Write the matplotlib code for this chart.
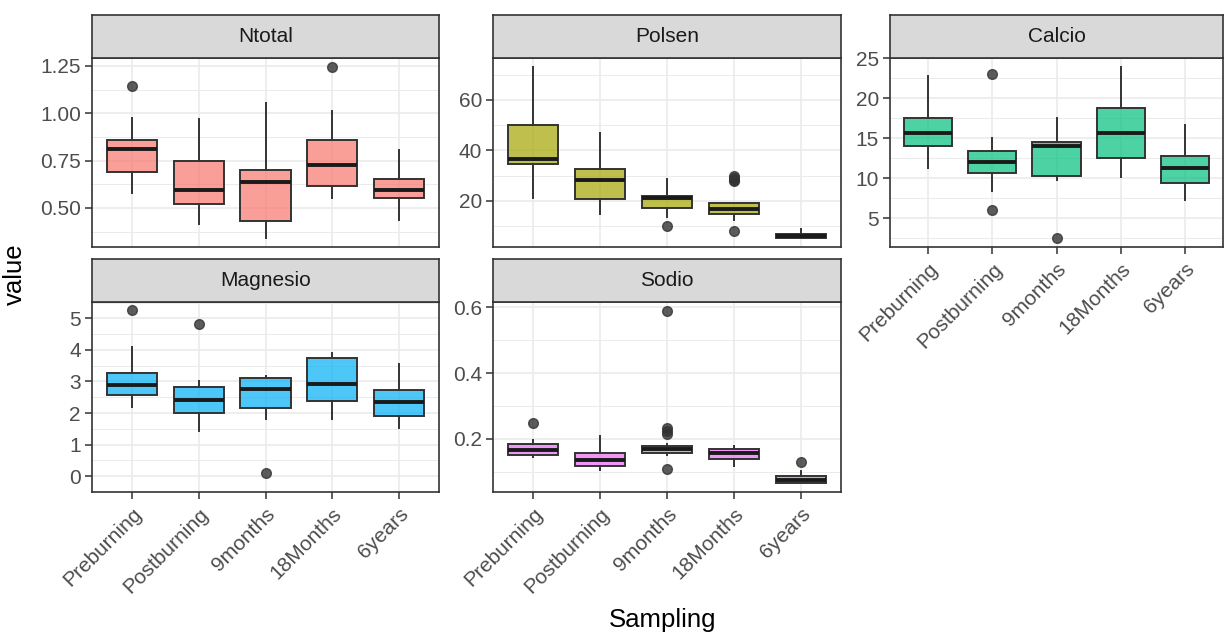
import numpy as np
import matplotlib.pyplot as plt

plt.rcParams['font.family'] = ['Liberation Sans', 'DejaVu Sans']

groups = ['Preburning', 'Postburning', '9months', '18Months', '6years']

# box statistics: whisker low, q1, median, q3, whisker high, outliers
ntotal_lo = [0.58, 0.414, 0.339, 0.554, 0.437]
ntotal_q1 = [0.691, 0.521, 0.429, 0.616, 0.55]
ntotal_med = [0.809, 0.593, 0.639, 0.725, 0.593]
ntotal_q3 = [0.861, 0.746, 0.70, 0.861, 0.652]
ntotal_hi = [0.975, 0.968, 1.054, 1.014, 0.807]
ntotal_out = [[1.143], [], [], [1.246], []]

polsen_lo = [21.0, 14.9, 13.5, 12.2, 5.1]
polsen_q1 = [34.6, 20.7, 17.1, 14.9, 5.1]
polsen_med = [36.5, 28.1, 21.1, 16.8, 6.0]
polsen_q3 = [50.0, 32.6, 22.1, 19.0, 6.9]
polsen_hi = [73.2, 46.8, 28.6, 19.0, 9.0]
polsen_out = [[], [], [10.1], [27.7, 28.4, 29.2, 29.9, 8.2], []]

calcio_lo = [11.25, 8.4, 9.8, 10.2, 7.3]
calcio_q1 = [14.04, 10.7, 10.3, 12.6, 9.4]
calcio_med = [15.67, 12.1, 14.0, 15.7, 11.25]
calcio_q3 = [17.5, 13.46, 14.5, 18.8, 12.8]
calcio_hi = [22.8, 15.1, 17.6, 23.96, 16.7]
calcio_out = [[], [23.0, 6.0], [2.5], [], []]

magnesio_lo = [2.19, 1.44, 1.82, 1.82, 1.54]
magnesio_q1 = [2.56, 1.99, 2.16, 2.37, 1.9]
magnesio_med = [2.88, 2.41, 2.76, 2.93, 2.35]
magnesio_q3 = [3.26, 2.83, 3.1, 3.73, 2.73]
magnesio_hi = [4.08, 3.03, 3.18, 3.9, 3.56]
magnesio_out = [[5.26], [4.83], [0.11], [], []]

sodio_lo = [0.146, 0.106, 0.151, 0.118, 0.065]
sodio_q1 = [0.151, 0.118, 0.156, 0.139, 0.065]
sodio_med = [0.167, 0.135, 0.169, 0.156, 0.076]
sodio_q3 = [0.185, 0.158, 0.18, 0.169, 0.088]
sodio_hi = [0.197, 0.21, 0.186, 0.18, 0.104]
sodio_out = [[0.248], [], [0.59, 0.233, 0.225, 0.214, 0.108], [], [0.131]]

panels = [
    ('Ntotal', '#F8766D', (ntotal_lo, ntotal_q1, ntotal_med, ntotal_q3, ntotal_hi, ntotal_out),
     [0.5, 0.75, 1.0, 1.25], ['0.50', '0.75', '1.00', '1.25'], 0.125),
    ('Polsen', '#A3A500', (polsen_lo, polsen_q1, polsen_med, polsen_q3, polsen_hi, polsen_out),
     [20, 40, 60], ['20', '40', '60'], 10),
    ('Calcio', '#00BF7D', (calcio_lo, calcio_q1, calcio_med, calcio_q3, calcio_hi, calcio_out),
     [5, 10, 15, 20, 25], ['5', '10', '15', '20', '25'], 2.5),
    ('Magnesio', '#00B0F6', (magnesio_lo, magnesio_q1, magnesio_med, magnesio_q3, magnesio_hi, magnesio_out),
     [0, 1, 2, 3, 4, 5], ['0', '1', '2', '3', '4', '5'], 0.5),
    ('Sodio', '#E76BF3', (sodio_lo, sodio_q1, sodio_med, sodio_q3, sodio_hi, sodio_out),
     [0.2, 0.4, 0.6], ['0.2', '0.4', '0.6'], 0.1),
]

W, H = 1225, 633
# panel rectangles in pixels: left, top, right, bottom
rects = [(92, 58, 439, 247), (493, 58, 841, 247), (890, 58, 1223, 247),
         (92, 302, 439, 492), (493, 302, 841, 492)]
strip_h = 43
show_x = [False, False, True, True, True]

fig = plt.figure(figsize=(W / 100, H / 100), dpi=100)
dark = '#333333'

for (name, col, st, ticks, labels, minor), (l, t, r, b), sx in zip(panels, rects, show_x):
    ax = fig.add_axes([l / W, 1 - b / H, (r - l) / W, (b - t) / H])
    lo, q1, med, q3, hi, out = st
    stats = []
    for i in range(len(groups)):
        stats.append(dict(whislo=lo[i], q1=q1[i], med=med[i], q3=q3[i], whishi=hi[i],
                          fliers=out[i], label=groups[i]))
    pos = np.arange(1, len(groups) + 1)
    ax.bxp(stats, positions=pos, widths=0.75, patch_artist=True, showcaps=False,
           boxprops=dict(facecolor=col + 'B3', edgecolor=dark, linewidth=1.4),
           whiskerprops=dict(color=dark, linewidth=1.4),
           medianprops=dict(color='#1A1A1A', linewidth=2.8),
           flierprops=dict(marker='o', markersize=7, markerfacecolor=dark,
                           markeredgecolor=dark, alpha=0.8, linestyle='none'),
           zorder=3)
    allv = lo + hi + [v for o in out for v in o]
    vmin, vmax = min(allv), max(allv)
    pad = 0.05 * (vmax - vmin)
    ax.set_ylim(vmin - pad, vmax + pad)
    ax.set_xlim(0.4, len(groups) + 0.6)
    ax.set_yticks(ticks)
    ax.set_yticklabels(labels)
    mt = np.arange(ticks[0] - minor, vmax + pad, 2 * minor)
    ax.set_yticks(mt, minor=True)
    ax.set_xticks(pos)
    ax.grid(True, which='major', color='#EBEBEB', linewidth=1.2, zorder=0)
    ax.grid(True, which='minor', axis='y', color='#EBEBEB', linewidth=0.7, zorder=0)
    ax.set_axisbelow(True)
    for s in ax.spines.values():
        s.set_color(dark)
        s.set_linewidth(1.2)
    ax.tick_params(axis='y', which='major', length=5, width=1.1, color=dark,
                   labelsize=15, labelcolor='#4D4D4D', pad=3)
    ax.tick_params(axis='y', which='minor', length=0)
    if sx:
        ax.set_xticklabels(groups, rotation=45, ha='right', va='top',
                           rotation_mode='anchor')
        ax.tick_params(axis='x', length=5, width=1.1, color=dark,
                       labelsize=15, labelcolor='#4D4D4D', pad=4)
    else:
        ax.tick_params(axis='x', length=0, labelbottom=False)

    sax = fig.add_axes([l / W, 1 - t / H, (r - l) / W, strip_h / H])
    sax.set_facecolor('#D9D9D9')
    sax.set_xticks([])
    sax.set_yticks([])
    for s in sax.spines.values():
        s.set_color(dark)
        s.set_linewidth(1.2)
    sax.text(0.5, 0.5, name, ha='center', va='center', fontsize=15,
             color='#1A1A1A', transform=sax.transAxes)

fig.text(15 / W, 1 - 274 / H, 'value', rotation=90, ha='center', va='center',
         fontsize=18.5, color='black')
fig.text(663 / W, 1 - 620 / H, 'Sampling', ha='center', va='center',
         fontsize=18.5, color='black')

fig.savefig('out.png', dpi=100)
